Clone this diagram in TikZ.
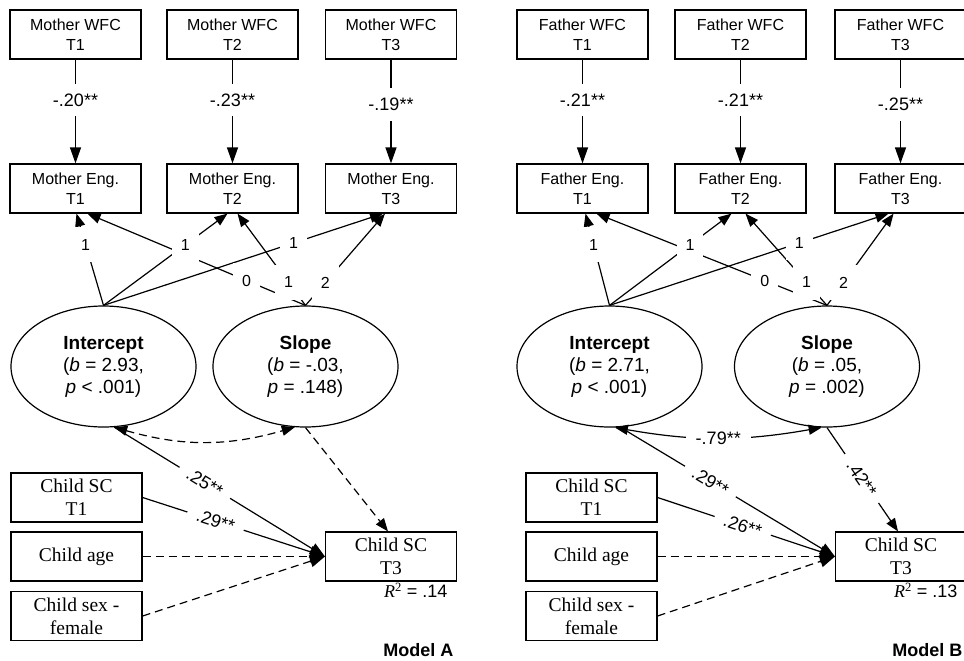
\documentclass[tikz,border=0pt]{standalone}
\usepackage{fontspec}
\setmainfont{Liberation Sans}
\newfontfamily\serifkid{Liberation Serif}
\usepackage{tikz}
\usetikzlibrary{arrows.meta,shapes.geometric}
\tikzset{
block/.style = {draw, fill=white, rectangle, align = center, minimum width=131pt, minimum height=49pt, inner sep=0pt, font=\fontsize{16}{20}\selectfont},
kid/.style = {block, font=\serifkid\fontsize{19.5}{23}\selectfont},
latent/.style = {draw, fill=white, ellipse, align = center, minimum width=185pt, minimum height=121pt, inner sep=0pt, font=\fontsize{19}{22}\selectfont},
coef/.style = {fill=white, inner xsep=10pt, inner ysep=6pt, font=\fontsize{18}{20}\selectfont},
load/.style = {fill=white, inner xsep=9pt, inner ysep=12pt, font=\fontsize{16}{18}\selectfont},
dsh/.style = {dash pattern=on 8pt off 5pt},
bigtip/.style = {>={Triangle[length=16pt,width=11pt]}},
kidtip/.style = {>={Triangle[length=15pt,width=12pt]}},
rsq/.style = {anchor=north east, inner sep=0pt, font=\fontsize{18}{20}\selectfont},
model/.style = {anchor=east, inner sep=0pt, font=\bfseries\fontsize{18}{20}\selectfont}
}
\begin{document}
\begin{tikzpicture}[x=1pt,y=-1pt,line width=1.2pt,>={Triangle[length=13pt,width=10pt]}]
        \useasboundingbox (0,0) rectangle (964,661);
        %Model A: mother WFC -> mother engagement
        \foreach \t/\x/\b/\p in {1/75.5/-.20/0.39, 2/232.5/-.23/0.39, 3/391/-.19/0.43}{
            \node [block] (wa\t) at (\x,34.5) {Mother WFC\\T\t};
            \node [block] (ea\t) at (\x,188.5) {Mother Eng.\\T\t};
            \draw [->, bigtip] (wa\t) -- node[coef, inner ysep=10pt, pos=\p]{\b**} (ea\t);
        }
        \node [latent] (ia) at (103.5,366.5) {\textbf{Intercept}\\(\textit{b} = 2.93,\\\textit{p} < .001)};
        \node [latent] (sa) at (305.5,366.5) {\textbf{Slope}\\(\textit{b} = -.03,\\\textit{p} = .148)};
        %loadings
        \foreach \f/\e/\s in {ia/ea1/1, sa/ea1/12, ia/ea2/-5, sa/ea2/5, ia/ea3/-8, sa/ea3/-6}
            \draw [->] (\f.north) -- ([xshift=\s pt]\e.south);
        \foreach \f/\e/\s/\l/\p in {ia/ea1/1/1/.66, ia/ea2/-5/1/.66, ia/ea3/-8/1/.68, sa/ea1/12/0/.27, sa/ea2/5/1/.25, sa/ea3/-6/2/.25}
            \path (\f.north) -- node[load, pos=\p]{\l} ([xshift=\s pt]\e.south);
        %child outcome
        \node [kid] (ka1) at (76.5,497.5) {Child SC\\T1};
        \node [kid] (ka2) at (76.5,556.5) {Child age};
        \node [kid] (ka3) at (76.5,616) {Child sex -\\female};
        \node [kid] (ta) at (391,556.5) {Child SC\\T3};
        \node [rsq] (ra) at ([xshift=-9pt,yshift=-1pt]ta.south east) {{\serifkid\itshape R}\textsuperscript{\serifkid 2} = .14};
        \draw [<->, dsh] (ia.-80) to[bend right=16] (sa.-100);
        \draw [->, dsh] (sa.south) -- ([xshift=-3pt]ta.north);
        \draw [->, kidtip] (ia.-80) -- (ta.west);
        \draw [->, kidtip] (ka1.east) -- (ta.west);
        \draw [->, kidtip, dsh] (ka2.east) -- (ta.west);
        \draw [->, kidtip, dsh] (ka3.east) -- (ta.west);
        \path (ia.-80) -- node[coef, sloped, pos=.43]{.25**} (ta.west);
        \path (ka1.east) -- node[coef, sloped, pos=.40]{.29**} (ta.west);
        \node [model] (ma) at (454,650) {Model A};

        %Model B: father WFC -> father engagement
        \foreach \t/\x/\b/\p in {1/582.5/-.21/0.39, 2/740.5/-.21/0.39, 3/900.5/-.25/0.43}{
            \node [block] (wb\t) at (\x,34.5) {Father WFC\\T\t};
            \node [block] (eb\t) at (\x,188.5) {Father Eng.\\T\t};
            \draw [->, bigtip] (wb\t) -- node[coef, inner ysep=10pt, pos=\p]{\b**} (eb\t);
        }
        \node [latent] (ib) at (609.5,366.5) {\textbf{Intercept}\\(\textit{b} = 2.71,\\\textit{p} < .001)};
        \node [latent] (sb) at (827,366.5) {\textbf{Slope}\\(\textit{b} = .05,\\\textit{p} = .002)};
        %loadings
        \foreach \f/\e/\s in {ib/eb1/3, sb/eb1/14, ib/eb2/-9, sb/eb2/5, ib/eb3/-12, sb/eb3/-7}
            \draw [->] (\f.north) -- ([xshift=\s pt]\e.south);
        \foreach \f/\e/\s/\l/\p in {ib/eb1/3/1/.66, ib/eb2/-9/1/.66, ib/eb3/-12/1/.68, sb/eb1/14/0/.27, sb/eb2/5/1/.25, sb/eb3/-7/2/.25}
            \path (\f.north) -- node[load, pos=\p]{\l} ([xshift=\s pt]\e.south);
        %child outcome
        \node [kid] (kb1) at (591.5,497.5) {Child SC\\T1};
        \node [kid] (kb2) at (591.5,556.5) {Child age};
        \node [kid] (kb3) at (591.5,616) {Child sex -\\female};
        \node [kid] (tb) at (901,556.5) {Child SC\\T3};
        \node [rsq] (rb) at ([xshift=-9pt,yshift=-1pt]tb.south east) {{\serifkid\itshape R}\textsuperscript{\serifkid 2} = .13};
        \draw [<->] (ib.-85) to[bend right=10] node[coef]{-.79**} (sb.-95);
        \draw [->] (sb.south) -- ([xshift=-3pt]tb.north);
        \draw [->, kidtip] (ib.-80) -- (tb.west);
        \draw [->, kidtip] (kb1.east) -- (tb.west);
        \draw [->, kidtip, dsh] (kb2.east) -- (tb.west);
        \draw [->, kidtip, dsh] (kb3.east) -- (tb.west);
        \path (ib.-80) -- node[coef, sloped, pos=.42]{.29**} (tb.west);
        \path (kb1.east) -- node[coef, sloped, pos=.48]{.26**} (tb.west);
        \path (sb.south) -- node[coef, sloped, pos=.49]{.42**} ([xshift=-3pt]tb.north);
        \node [model] (mb) at (963,650) {Model B};
\end{tikzpicture}
\end{document}
